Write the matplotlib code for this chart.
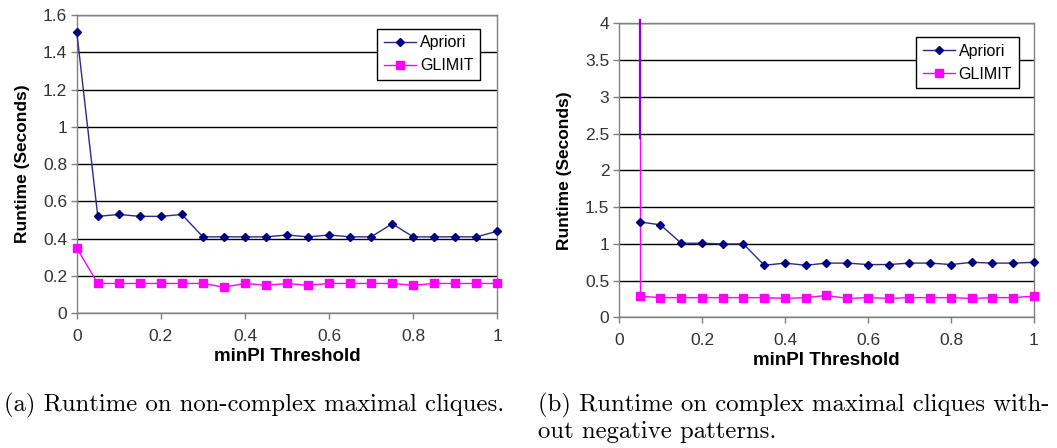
import matplotlib
matplotlib.use("Agg")
import matplotlib.pyplot as plt
from matplotlib import font_manager

# ---- data -------------------------------------------------------------
thresholds_a = [0.0, 0.05, 0.1, 0.15, 0.2, 0.25, 0.3, 0.35, 0.4, 0.45, 0.5,
                0.55, 0.6, 0.65, 0.7, 0.75, 0.8, 0.85, 0.9, 0.95, 1.0]
apriori_a = [1.51, 0.52, 0.53, 0.52, 0.52, 0.53, 0.41, 0.41, 0.41, 0.41, 0.42,
             0.41, 0.42, 0.41, 0.41, 0.48, 0.41, 0.41, 0.41, 0.41, 0.44]
glimit_a = [0.35, 0.16, 0.16, 0.16, 0.16, 0.16, 0.16, 0.14, 0.16, 0.15, 0.16,
            0.15, 0.16, 0.16, 0.16, 0.16, 0.15, 0.16, 0.16, 0.16, 0.16]

thresholds_b = [0.05, 0.1, 0.15, 0.2, 0.25, 0.3, 0.35, 0.4, 0.45, 0.5,
                0.55, 0.6, 0.65, 0.7, 0.75, 0.8, 0.85, 0.9, 0.95, 1.0]
apriori_b = [1.30, 1.26, 1.01, 1.01, 1.00, 1.00, 0.71, 0.74, 0.71, 0.74,
             0.74, 0.72, 0.72, 0.74, 0.74, 0.72, 0.75, 0.74, 0.74, 0.75]
glimit_b = [0.29, 0.27, 0.27, 0.27, 0.27, 0.27, 0.27, 0.26, 0.27, 0.30,
            0.26, 0.27, 0.26, 0.27, 0.27, 0.27, 0.26, 0.27, 0.27, 0.29]
# off-scale run at the first threshold of panel (b)
spike_x = 0.05
spike_top = 4.05
spike_join = 2.44

series_names = ["Apriori", "GLIMIT"]
yticks_a = [0, 0.2, 0.4, 0.6, 0.8, 1.0, 1.2, 1.4, 1.6]
ytick_labels_a = ["0", "0.2", "0.4", "0.6", "0.8", "1", "1.2", "1.4", "1.6"]
yticks_b = [0, 0.5, 1.0, 1.5, 2.0, 2.5, 3.0, 3.5, 4.0]
ytick_labels_b = ["0", "0.5", "1", "1.5", "2", "2.5", "3", "3.5", "4"]
xticks = [0, 0.2, 0.4, 0.6, 0.8, 1.0]
xtick_labels = ["0", "0.2", "0.4", "0.6", "0.8", "1"]
xlabel = "minPI Threshold"
ylabel = "Runtime (Seconds)"
caption_a = "(a) Runtime on non-complex maximal cliques."
caption_b = ["(b) Runtime on complex maximal cliques with-",
             "out negative patterns."]

# ---- fonts ------------------------------------------------------------
names = {f.name for f in font_manager.fontManager.ttflist}
narrow = "Liberation Sans Narrow" if "Liberation Sans Narrow" in names else "Liberation Sans"
sans = "Liberation Sans"
serif = "cmr10" if "cmr10" in names else "DejaVu Serif"

NAVY = "#000080"
NAVY_LINE = "#2a2a8c"
MAGENTA = "#ff00ff"
FRAME = "#808080"
TEXT = "#333333"

fig = plt.figure(figsize=(10.57, 4.48), dpi=100)
ax_a = fig.add_axes([0.0726, 0.3007, 0.3979, 0.6658])
ax_b = fig.add_axes([0.5856, 0.2913, 0.3926, 0.6565])


def style_axes(ax, yticks, ylabels, ymax, ylabelpad):
    ax.set_xlim(0, 1)
    ax.set_ylim(0, ymax)
    ax.set_xticks(xticks)
    ax.set_xticklabels(xtick_labels, fontfamily=narrow, fontsize=12.5, color=TEXT)
    ax.set_yticks(yticks)
    ax.set_yticklabels(ylabels, fontfamily=narrow, fontsize=12.5, color=TEXT)
    ax.tick_params(axis="both", direction="out", length=4, width=1,
                   color=FRAME, pad=3)
    ax.tick_params(axis="x", pad=7)
    for side in ("left", "bottom", "top", "right"):
        ax.spines[side].set_color(FRAME)
        ax.spines[side].set_linewidth(1)
    ax.yaxis.grid(True, color="black", linewidth=1)
    ax.set_axisbelow(True)
    ax.set_xlabel(xlabel, fontfamily=narrow, fontweight="bold", fontsize=13.5,
                  color="black", labelpad=3)
    ax.set_ylabel(ylabel, fontfamily=sans, fontweight="bold", fontsize=12.5,
                  color="black", labelpad=ylabelpad)


def draw_series(ax, x, apr, gli):
    ax.plot(x, apr, color=NAVY_LINE, linewidth=1, marker="D", markersize=4.5,
            markerfacecolor=NAVY, markeredgecolor=NAVY, label=series_names[0],
            clip_on=False, zorder=4)
    ax.plot(x, gli, color=MAGENTA, linewidth=1, marker="s", markersize=5.5,
            markerfacecolor=MAGENTA, markeredgecolor=MAGENTA,
            label=series_names[1], clip_on=False, zorder=3)


def draw_legend(ax, anchor):
    leg = ax.legend(loc="upper right", bbox_to_anchor=anchor,
                    prop={"family": narrow, "size": 11.5}, frameon=True,
                    fancybox=False, edgecolor="black", framealpha=1,
                    borderpad=0.4, handlelength=2.0, handletextpad=0.25,
                    labelspacing=0.5, borderaxespad=0)
    leg.get_frame().set_linewidth(1)


# panel (a)
style_axes(ax_a, yticks_a, ytick_labels_a, 1.6, 9)
draw_series(ax_a, thresholds_a, apriori_a, glimit_a)
draw_legend(ax_a, (0.958, 0.953))

# panel (b)
style_axes(ax_b, yticks_b, ytick_labels_b, 4.0, 9)
ax_b.plot([spike_x, spike_x], [glimit_b[0], spike_join], color=MAGENTA,
          linewidth=1, clip_on=False, zorder=3)
ax_b.plot([spike_x, spike_x], [spike_join, spike_top], color="#8a00e6",
          linewidth=1.6, clip_on=False, zorder=3)
draw_series(ax_b, thresholds_b, apriori_b, glimit_b)
draw_legend(ax_b, (0.963, 0.953))

# captions
cap_size = 17.8
fig.text(0.004, 1 - 405 / 448, caption_a, fontfamily=serif, fontsize=cap_size,
         ha="left", va="center")
fig.text(0.509, 1 - 405 / 448, caption_b[0], fontfamily=serif, fontsize=cap_size,
         ha="left", va="center")
fig.text(0.509, 1 - 432 / 448, caption_b[1], fontfamily=serif, fontsize=cap_size,
         ha="left", va="center")

fig.savefig("out.png", dpi=100, facecolor="white")
